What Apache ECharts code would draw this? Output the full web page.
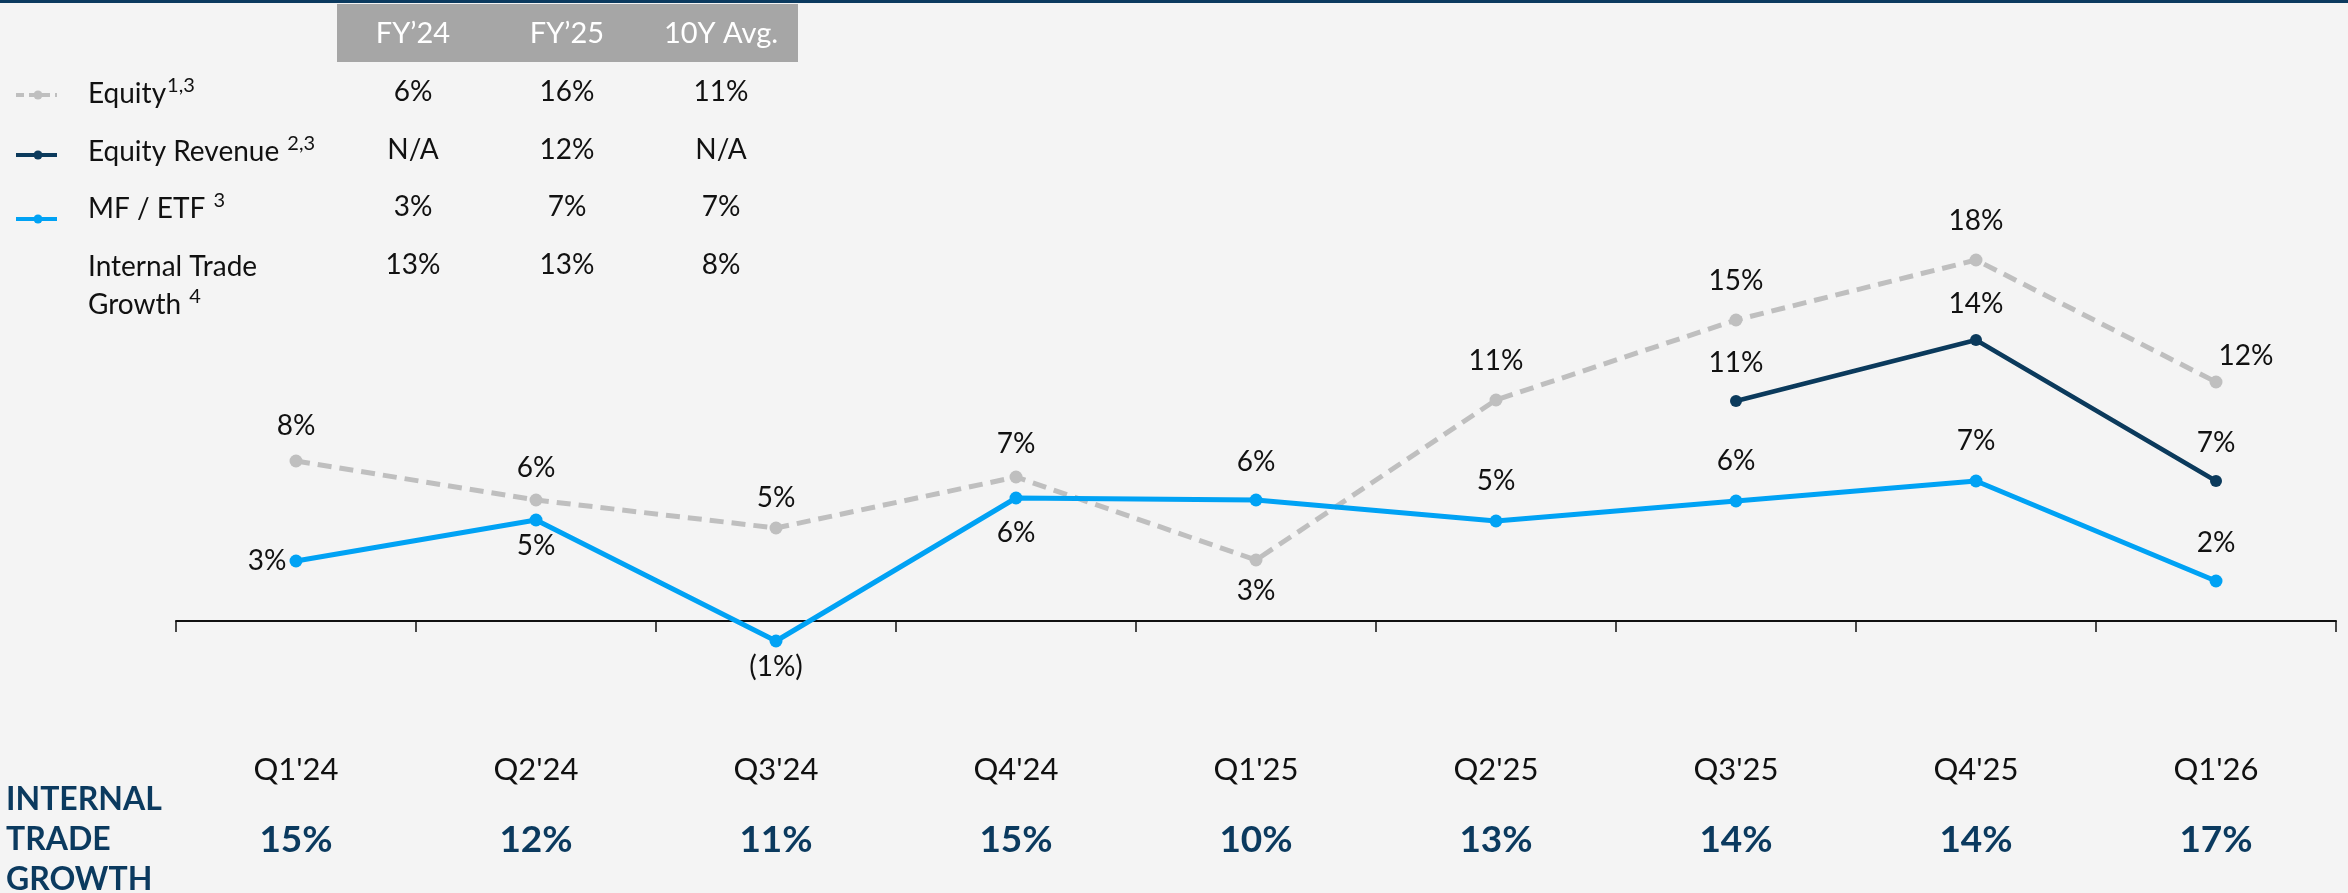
<!DOCTYPE html>
<html>
<head>
<meta charset="utf-8">
<script src="https://cdn.jsdelivr.net/npm/echarts@6/dist/echarts.min.js"></script>
<style>
	html, body { margin: 0; padding: 0; background: #f4f4f4; }
	#main { width: 2348px; height: 893px; }
</style>
</head>
<body>
<div id="main"></div>
<script>
// categories and values
var quarters = ["Q1'24", "Q2'24", "Q3'24", "Q4'24", "Q1'25", "Q2'25", "Q3'25", "Q4'25", "Q1'26"];
var equity = [8.0, 6.05, 4.65, 7.2, 3.05, 11.05, 15.05, 18.05, 11.95];
var equityRevenue = ['-', '-', '-', '-', '-', '-', 11.0, 14.05, 7.0];
var mfEtf = [3.0, 5.05, -1.0, 6.15, 6.05, 5.0, 6.0, 7.0, 2.0];
var internalTradeGrowth = [15, 12, 11, 15, 10, 13, 14, 14, 17];

// summary table (top left)
var tableHeaders = ['FY’24', 'FY’25', '10Y Avg.'];
var tableRows = ['Equity', 'Equity Revenue ', 'MF / ETF ', 'Internal Trade\nGrowth '];
var tableNotes = ['1,3', '2,3', '3', '4'];
var fy24 = ['6%', 'N/A', '3%', '13%'];
var fy25 = ['16%', '12%', '7%', '13%'];
var avg10y = ['11%', 'N/A', '7%', '8%'];

// label placement per point: [position, distance, offset]
var equityLabelPos = [['top', 15], ['top', 12], ['top', 10], ['top', 13], ['bottom', 10], ['top', 19], ['top', 19], ['top', 19], ['top', 6, [30, 0]]];
var equityRevLabelPos = [null, null, null, null, null, null, ['top', 18], ['top', 16], ['top', 18]];
var mfLabelPos = [['left', 3], ['bottom', 5], ['bottom', 5], ['bottom', 14], ['top', 18], ['top', 20], ['top', 20], ['top', 20], ['top', 18]];

var FONT = 'Lato';
var C_EQUITY = '#bfbfbf';
var C_EQREV = '#0b3a5c';
var C_MF = '#00a2f4';
var C_NAVY = '#0b3a5f';

function pctText(v) {
	var r = Math.round(v);
	return r < 0 ? '(' + Math.abs(r) + '%)' : r + '%';
}

function buildData(values, pos) {
	var out = [];
	for (var i = 0; i < values.length; i++) {
		if (values[i] === '-') { out.push('-'); continue; }
		var p = pos[i];
		var item = { value: values[i], label: { position: p[0], distance: p[1] } };
		if (p[2]) item.label.offset = p[2];
		out.push(item);
	}
	return out;
}

var lineLabel = {
	show: true,
	fontFamily: FONT,
	fontSize: 28,
	color: '#111',
	formatter: function(params) { return pctText(params.value); }
};

// table graphics
var graphics = [];
graphics.push({ type: 'rect', shape: { x: 0, y: 0, width: 2348, height: 3 }, style: { fill: C_NAVY } });
graphics.push({ type: 'rect', shape: { x: 337, y: 4, width: 461, height: 58 }, style: { fill: '#a6a6a6' } });
var colX = [413, 567, 721];
var rowY = [92, 150, 207, 265];
for (var c = 0; c < tableHeaders.length; c++) {
	graphics.push({ type: 'text', x: colX[c], y: 34, style: { text: tableHeaders[c], fill: '#fff', font: '29px ' + FONT, align: 'center', verticalAlign: 'middle' } });
}
var cols = [fy24, fy25, avg10y];
for (var r = 0; r < tableRows.length; r++) {
	var lines = tableRows[r].split('\n');
	var txt = '';
	for (var l = 0; l < lines.length; l++) {
		txt += (l ? '\n' : '') + '{a|' + lines[l] + '}';
	}
	txt += '{s|' + tableNotes[r] + '}';
	graphics.push({
		type: 'text', x: 88, y: rowY[r] - 17,
		style: {
			text: txt, fill: '#111', align: 'left', verticalAlign: 'top',
			rich: {
				a: { fontFamily: FONT, fontSize: 28, lineHeight: 38, fill: '#111' },
				s: { fontFamily: FONT, fontSize: 20, lineHeight: 20, verticalAlign: 'top', padding: [1, 0, 0, 1], fill: '#111' }
			}
		}
	});
	for (var c2 = 0; c2 < cols.length; c2++) {
		graphics.push({ type: 'text', x: colX[c2], y: rowY[r], style: { text: cols[c2][r], fill: '#111', font: '28px ' + FONT, align: 'center', verticalAlign: 'middle' } });
	}
}
// legend icons
var iconY = [95, 155, 219];
var iconCol = [C_EQUITY, C_EQREV, C_MF];
for (var k = 0; k < 3; k++) {
	graphics.push({ type: 'line', shape: { x1: 16, y1: iconY[k], x2: 57, y2: iconY[k] }, style: { stroke: iconCol[k], lineWidth: 4, lineDash: k === 0 ? [8, 5] : null } });
	graphics.push({ type: 'circle', shape: { cx: 38, cy: iconY[k], r: 4.5 }, style: { fill: iconCol[k] } });
}
graphics.push({
	type: 'text', x: 6, y: 840,
	style: { text: 'INTERNAL\nTRADE\nGROWTH', fill: C_NAVY, font: 'bold 32px ' + FONT, lineHeight: 40, align: 'left', verticalAlign: 'middle' }
});

var option = {
	animation: false,
	backgroundColor: '#f4f4f4',
	textStyle: { fontFamily: FONT },
	graphic: graphics,
	grid: { left: 176, right: 12, top: 221, bottom: 232 },
	xAxis: {
		type: 'category',
		data: quarters,
		boundaryGap: true,
		axisLine: { show: true, onZero: true, lineStyle: { color: '#111', width: 2 } },
		axisTick: { show: true, length: 11, lineStyle: { color: '#111', width: 1.5 } },
		splitLine: { show: false },
		axisLabel: {
			margin: 73,
			interval: 0,
			formatter: function(value, idx) {
				return '{q|' + value + '}\n{g|' + internalTradeGrowth[idx] + '%}';
			},
			rich: {
				q: { fontFamily: FONT, fontSize: 31, lineHeight: 71, color: '#111' },
				g: { fontFamily: FONT, fontSize: 37, fontWeight: 'bold', lineHeight: 71, color: C_NAVY }
			}
		}
	},
	yAxis: {
		type: 'value',
		min: -2,
		max: 20,
		show: false,
		splitLine: { show: false }
	},
	series: [{
		name: 'Equity',
		type: 'line',
		data: buildData(equity, equityLabelPos),
		symbol: 'circle',
		symbolSize: 13,
		itemStyle: { color: C_EQUITY },
		lineStyle: { color: C_EQUITY, width: 5, type: [14, 8] },
		label: lineLabel,
		z: 2
	}, {
		name: 'Equity Revenue',
		type: 'line',
		data: buildData(equityRevenue, equityRevLabelPos),
		symbol: 'circle',
		symbolSize: 12,
		itemStyle: { color: C_EQREV },
		lineStyle: { color: C_EQREV, width: 4.5 },
		label: lineLabel,
		z: 3
	}, {
		name: 'MF / ETF',
		type: 'line',
		data: buildData(mfEtf, mfLabelPos),
		symbol: 'circle',
		symbolSize: 13,
		itemStyle: { color: C_MF },
		lineStyle: { color: C_MF, width: 5 },
		label: lineLabel,
		z: 4
	}]
};

var myChart = echarts.init(document.getElementById('main'));
myChart.setOption(option);
</script>
</body>
</html>
